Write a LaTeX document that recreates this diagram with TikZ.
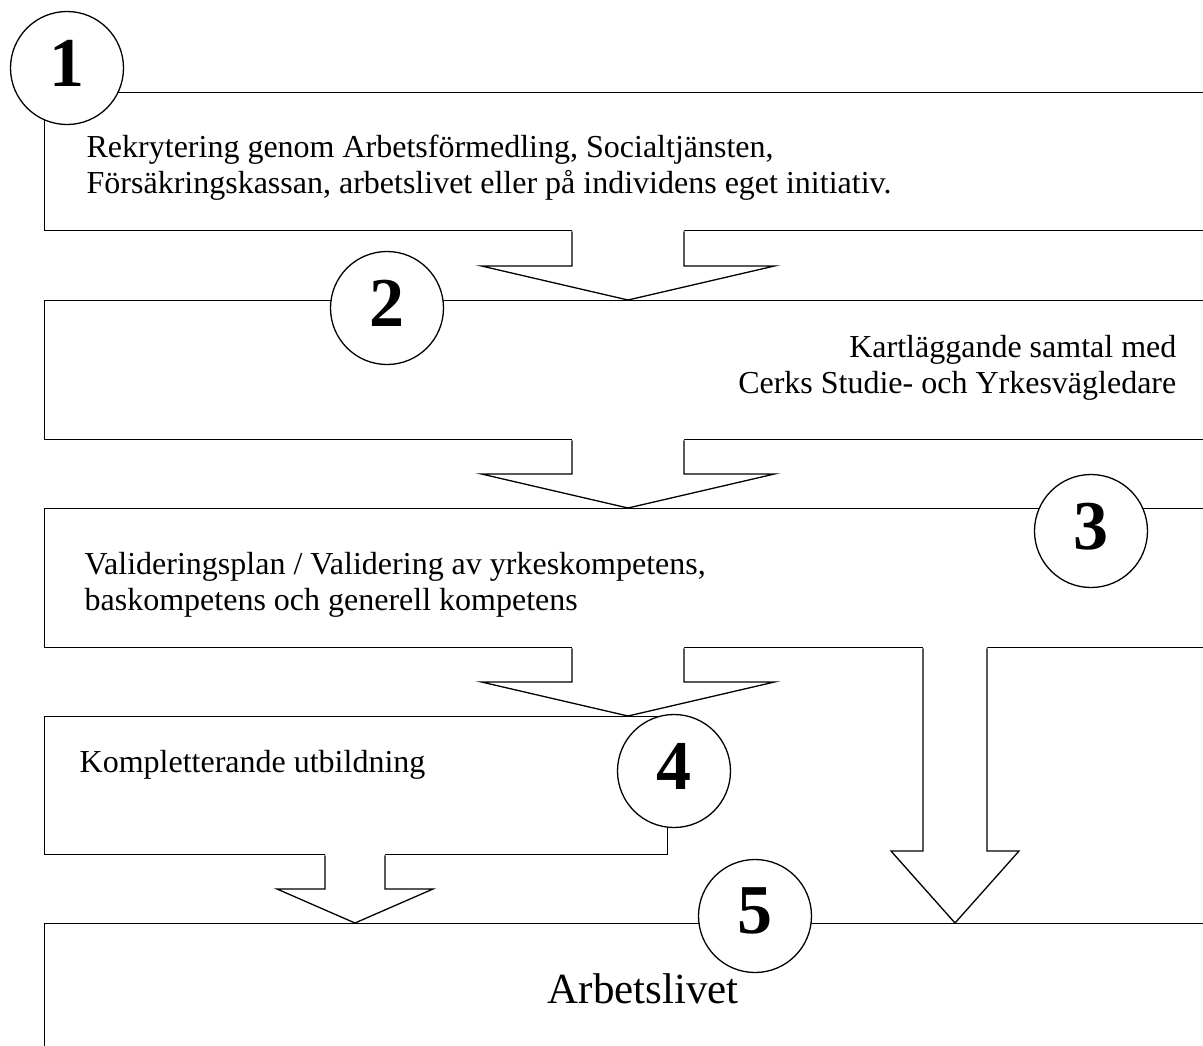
\documentclass[tikz,border=0pt]{standalone}
\usepackage{fontspec}
\setmainfont{Liberation Serif}

% open block arrow from the bottom of one box to the top of the next
% #1 from, #2 to, #3 x, #4 half shaft, #5 half head, #6 head length
\newcommand{\blockarrow}[6]{%
    \path (#3,0 |- #2.north) coordinate (tip) ++(0,-#6) coordinate (base)
          ({#3-#4},0 |- #1.south) coordinate (sl)
          ({#3+#4},0 |- #1.south) coordinate (sr);
    \fill[white] ([yshift=2pt]sl) -- (sl |- base) -- ({#3-#5},0 |- base) -- (tip)
        -- ({#3+#5},0 |- base) -- (sr |- base) -- ([yshift=2pt]sr) -- cycle;
    \draw (sl) -- (sl |- base) -- ({#3-#5},0 |- base) -- (tip)
        -- ({#3+#5},0 |- base) -- (sr |- base) -- (sr);
}

\begin{document}
\begin{tikzpicture}[
        x=1pt, y=-1pt, line width=1.3pt
    ]

    \tikzstyle{box} = [rectangle,draw,anchor=north west,inner sep=0pt]
    \tikzstyle{num} = [circle,draw,fill=white,minimum size=113pt,inner sep=0pt,
                       text depth=10pt,font=\fontsize{70}{70}\selectfont\bfseries]
    \tikzstyle{txt} = [inner sep=0pt,font=\fontsize{32}{36}\selectfont]

    \useasboundingbox (0,0) rectangle (1203,1045);

    \node[box,minimum width=1180pt,minimum height=138pt] (b1) at (44,92)  {};
    \node[box,minimum width=1180pt,minimum height=139pt] (b2) at (44,300) {};
    \node[box,minimum width=1180pt,minimum height=139pt] (b3) at (44,508) {};
    \node[box,minimum width=623pt, minimum height=138pt] (b4) at (44,716) {};
    \node[box,minimum width=1180pt,minimum height=200pt] (b5) at (44,923) {};

    \blockarrow{b1}{b2}{628}{56}{146.5}{34}
    \blockarrow{b2}{b3}{628}{56}{146.5}{34}
    \blockarrow{b3}{b4}{628}{56}{146.5}{34}
    \blockarrow{b4}{b5}{355}{30}{78}{34}
    \blockarrow{b3}{b5}{955}{32}{64}{72}

    % the base of a two line node is its last line
    \node[txt,anchor=base west,align=left] (t1) at (86,193)
        {Rekrytering genom Arbetsförmedling, Socialtjänsten,\\
         Försäkringskassan, arbetslivet eller på individens eget initiativ.};
    \node[txt,anchor=base east,align=right] (t2) at (1177,393)
        {Kartläggande samtal med\\Cerks Studie- och Yrkesvägledare};
    \node[txt,anchor=base west,align=left] (t3) at (84,610)
        {Valideringsplan / Validering av yrkeskompetens,\\
         baskompetens och generell kompetens};
    \node[txt,anchor=base west] (t4) at (79,772) {Kompletterande utbildning};
    \node[inner sep=0pt,anchor=base west,font=\fontsize{43}{43}\selectfont] (t5)
        at (547,1003) {Arbetslivet};

    \node[num] (n1) at (67,68)    {1};
    \node[num] (n2) at (387,308)  {2};
    \node[num] (n3) at (1091,531) {3};
    \node[num] (n4) at (674,771)  {4};
    \node[num] (n5) at (755,916)  {5};

\end{tikzpicture}
\end{document}
